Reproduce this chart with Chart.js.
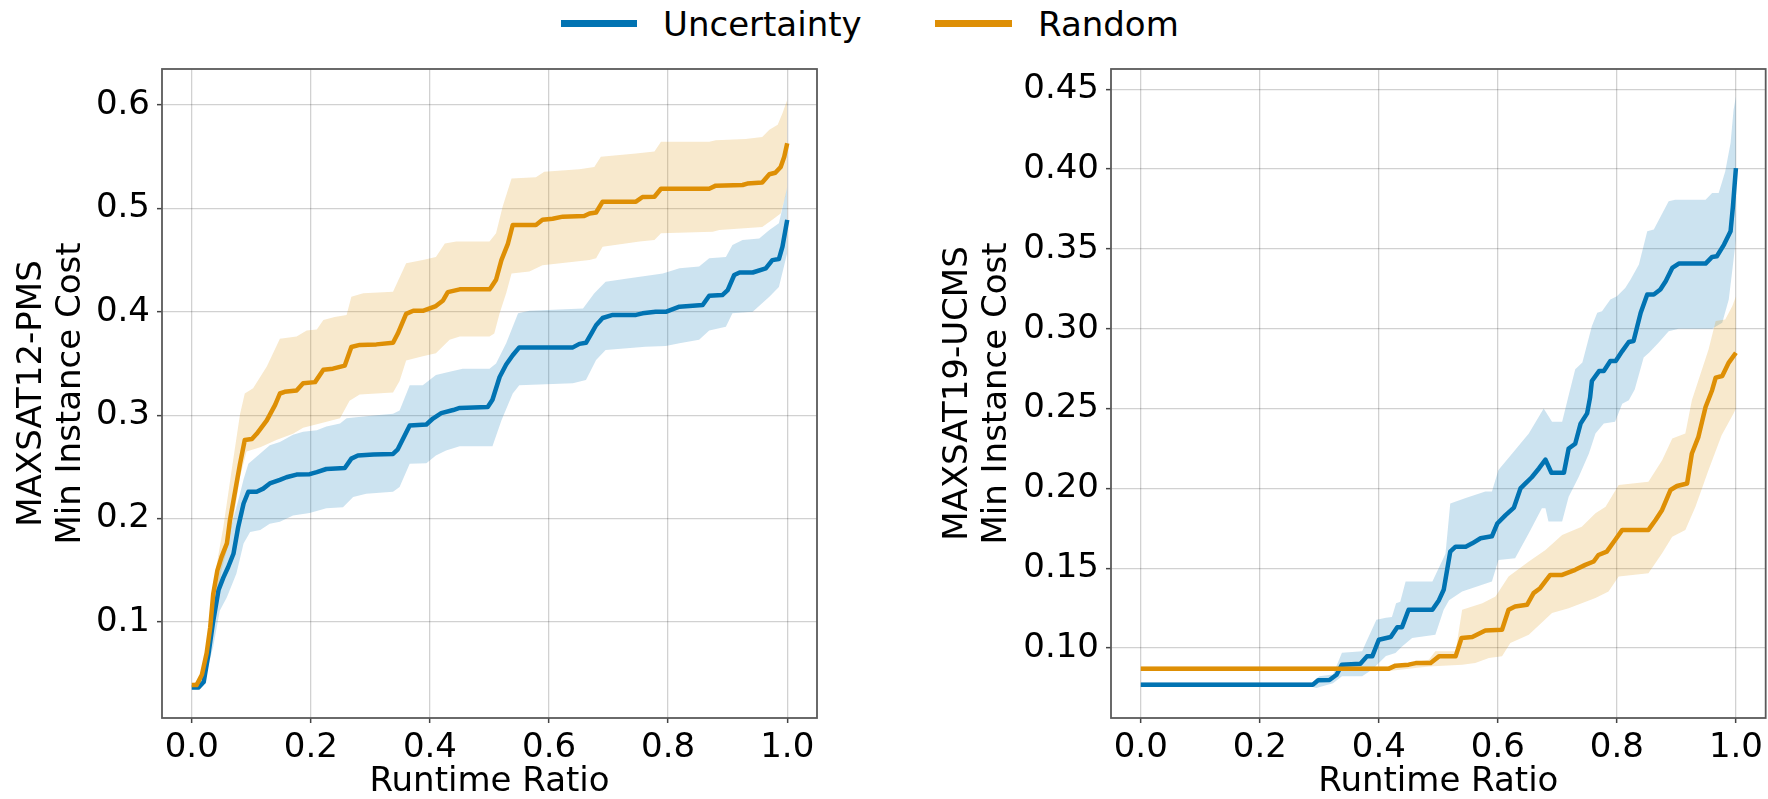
<!DOCTYPE html>
<html>
<head>
<meta charset="utf-8">
<script src="https://cdn.jsdelivr.net/npm/chart.js@4.4.0/dist/chart.umd.min.js"></script>
<style>
  html, body { margin: 0; padding: 0; background: #fff; }
  body { width: 1768px; height: 799px; position: relative; overflow: hidden; font-family: 'DejaVu Sans', sans-serif; }
  canvas { position: absolute; top: 0; }
  #left { left: 0; }
  #right { left: 880px; }
  .swatch { position: absolute; top: 20px; height: 7px; }
  .label { position: absolute; top: 7px; font-size: 34px; line-height: 34px; color: #000; white-space: nowrap; }
</style>
</head>
<body>
<div class="swatch" style="left:561px; width:76px; background:#0173B2;"></div>
<div class="label" style="left:663px;">Uncertainty</div>
<div class="swatch" style="left:935px; width:77px; background:#DE8F05;"></div>
<div class="label" style="left:1038px;">Random</div>
<canvas id="left" width="880" height="799"></canvas>
<canvas id="right" width="888" height="799"></canvas>
<script>
// x = runtime ratio, y = min instance cost
const xTicks = [0, 0.2, 0.4, 0.6, 0.8, 1.0];
const pmsYTicks = [0.1, 0.2, 0.3, 0.4, 0.5, 0.6];
const ucmsYTicks = [0.10, 0.15, 0.20, 0.25, 0.30, 0.35, 0.40, 0.45];

// MAXSAT12-PMS
const pmsUncMean = [[0,0.0366],[0.011,0.0366],[0.02,0.042],[0.028,0.069],[0.036,0.101],[0.045,0.131],[0.053,0.143],[0.061,0.153],[0.07,0.166],[0.078,0.192],[0.087,0.2146],[0.095,0.226],[0.109,0.226],[0.12,0.229],[0.131,0.234],[0.148,0.2375],[0.159,0.24],[0.176,0.2426],[0.198,0.243],[0.21,0.245],[0.226,0.248],[0.257,0.249],[0.268,0.258],[0.279,0.261],[0.305,0.262],[0.338,0.2626],[0.346,0.267],[0.366,0.29],[0.394,0.291],[0.405,0.2968],[0.419,0.302],[0.439,0.305],[0.45,0.307],[0.497,0.308],[0.505,0.315],[0.517,0.337],[0.528,0.349],[0.539,0.358],[0.55,0.3656],[0.64,0.3656],[0.651,0.369],[0.662,0.37],[0.671,0.379],[0.679,0.387],[0.69,0.394],[0.707,0.397],[0.746,0.397],[0.757,0.3985],[0.779,0.4],[0.796,0.4],[0.819,0.405],[0.858,0.4066],[0.869,0.4156],[0.891,0.4162],[0.9,0.421],[0.911,0.4356],[0.92,0.438],[0.942,0.438],[0.964,0.442],[0.975,0.45],[0.986,0.451],[0.992,0.463],[1.0,0.489]];
const pmsUncHi = [[0,0.038],[0.011,0.038],[0.02,0.046],[0.028,0.075],[0.036,0.115],[0.05,0.16],[0.065,0.19],[0.08,0.222],[0.087,0.238],[0.095,0.253],[0.115,0.263],[0.131,0.271],[0.148,0.274],[0.17,0.281],[0.187,0.284],[0.21,0.2855],[0.226,0.289],[0.249,0.292],[0.26,0.297],[0.276,0.298],[0.31,0.3],[0.338,0.3013],[0.349,0.3045],[0.366,0.329],[0.388,0.329],[0.41,0.339],[0.433,0.342],[0.455,0.345],[0.5,0.345],[0.511,0.35],[0.528,0.3695],[0.548,0.3985],[0.567,0.401],[0.657,0.4033],[0.676,0.418],[0.695,0.429],[0.729,0.432],[0.791,0.437],[0.819,0.442],[0.852,0.4437],[0.869,0.4517],[0.897,0.453],[0.908,0.4646],[0.925,0.4694],[0.953,0.471],[0.97,0.479],[0.986,0.4856],[0.995,0.508],[1.0,0.521]];
const pmsUncLo = [[0,0.035],[0.011,0.035],[0.02,0.039],[0.028,0.058],[0.036,0.076],[0.047,0.111],[0.059,0.124],[0.075,0.147],[0.087,0.176],[0.098,0.187],[0.115,0.189],[0.131,0.195],[0.148,0.197],[0.17,0.203],[0.198,0.2055],[0.226,0.21],[0.254,0.211],[0.271,0.221],[0.293,0.224],[0.338,0.226],[0.349,0.2306],[0.366,0.253],[0.394,0.2536],[0.41,0.261],[0.427,0.266],[0.45,0.27],[0.505,0.27],[0.52,0.295],[0.539,0.321],[0.55,0.329],[0.64,0.331],[0.662,0.334],[0.679,0.3534],[0.695,0.363],[0.762,0.3663],[0.796,0.367],[0.819,0.3695],[0.852,0.373],[0.869,0.382],[0.897,0.3856],[0.908,0.3985],[0.942,0.4],[0.97,0.4146],[0.986,0.424],[0.995,0.445],[1.0,0.457]];
const pmsRndMean = [[0,0.039],[0.008,0.039],[0.017,0.049],[0.025,0.07],[0.031,0.095],[0.036,0.127],[0.043,0.15],[0.05,0.163],[0.059,0.176],[0.064,0.198],[0.073,0.227],[0.081,0.253],[0.089,0.276],[0.101,0.277],[0.109,0.282],[0.126,0.295],[0.14,0.31],[0.148,0.321],[0.156,0.3226],[0.176,0.324],[0.187,0.331],[0.207,0.332],[0.221,0.344],[0.237,0.345],[0.257,0.348],[0.268,0.366],[0.282,0.368],[0.31,0.3685],[0.338,0.37],[0.346,0.379],[0.36,0.398],[0.372,0.401],[0.388,0.401],[0.41,0.4056],[0.422,0.411],[0.43,0.419],[0.45,0.4217],[0.5,0.4217],[0.503,0.424],[0.511,0.431],[0.52,0.45],[0.531,0.466],[0.539,0.484],[0.578,0.484],[0.589,0.489],[0.606,0.49],[0.623,0.492],[0.659,0.4926],[0.668,0.495],[0.679,0.496],[0.69,0.5065],[0.746,0.5065],[0.757,0.511],[0.777,0.5113],[0.788,0.519],[0.869,0.519],[0.88,0.522],[0.925,0.5226],[0.933,0.524],[0.958,0.525],[0.97,0.533],[0.98,0.5345],[0.989,0.54],[0.995,0.55],[1.0,0.563]];
const pmsRndHi = [[0,0.041],[0.008,0.042],[0.017,0.053],[0.025,0.078],[0.031,0.108],[0.036,0.135],[0.045,0.166],[0.053,0.192],[0.067,0.247],[0.081,0.301],[0.089,0.321],[0.103,0.326],[0.126,0.347],[0.148,0.374],[0.176,0.376],[0.193,0.382],[0.21,0.383],[0.221,0.392],[0.24,0.395],[0.26,0.397],[0.268,0.4146],[0.288,0.418],[0.338,0.4195],[0.36,0.447],[0.388,0.45],[0.41,0.453],[0.425,0.466],[0.444,0.468],[0.5,0.468],[0.511,0.476],[0.522,0.5017],[0.537,0.529],[0.578,0.53],[0.592,0.5355],[0.651,0.5378],[0.676,0.54],[0.687,0.55],[0.746,0.553],[0.777,0.5549],[0.788,0.5645],[0.869,0.5645],[0.88,0.566],[0.93,0.567],[0.958,0.569],[0.97,0.576],[0.984,0.581],[0.992,0.592],[1.0,0.605]];
const pmsRndLo = [[0,0.037],[0.01,0.037],[0.02,0.045],[0.028,0.065],[0.036,0.1],[0.05,0.15],[0.059,0.17],[0.07,0.2],[0.081,0.24],[0.092,0.265],[0.115,0.269],[0.142,0.276],[0.17,0.282],[0.187,0.288],[0.215,0.292],[0.249,0.297],[0.265,0.314],[0.282,0.32],[0.338,0.322],[0.349,0.333],[0.36,0.353],[0.388,0.357],[0.41,0.36],[0.433,0.373],[0.45,0.376],[0.5,0.376],[0.508,0.379],[0.517,0.3985],[0.528,0.418],[0.537,0.437],[0.567,0.439],[0.589,0.445],[0.668,0.45],[0.679,0.4517],[0.69,0.463],[0.752,0.468],[0.777,0.4694],[0.788,0.476],[0.875,0.4775],[0.886,0.479],[0.958,0.482],[0.975,0.489],[0.989,0.495],[0.997,0.512],[1.0,0.521]];

// MAXSAT19-UCMS
const ucmsUncMean = [[0,0.0771],[0.289,0.0771],[0.298,0.0798],[0.317,0.08],[0.329,0.0833],[0.338,0.0896],[0.369,0.0902],[0.38,0.0948],[0.389,0.0948],[0.4,0.1052],[0.42,0.1069],[0.431,0.1131],[0.439,0.1131],[0.45,0.124],[0.49,0.124],[0.501,0.13],[0.509,0.1365],[0.52,0.1604],[0.529,0.1635],[0.546,0.1635],[0.557,0.1656],[0.571,0.1688],[0.59,0.17],[0.599,0.178],[0.613,0.1833],[0.627,0.188],[0.638,0.2],[0.646,0.203],[0.657,0.207],[0.669,0.2125],[0.68,0.218],[0.69,0.2098],[0.711,0.2098],[0.719,0.225],[0.73,0.228],[0.739,0.2406],[0.75,0.247],[0.755,0.257],[0.758,0.2673],[0.77,0.2735],[0.778,0.2735],[0.789,0.2798],[0.798,0.2798],[0.809,0.286],[0.82,0.2917],[0.828,0.2923],[0.84,0.31],[0.851,0.3215],[0.862,0.3215],[0.873,0.3246],[0.882,0.3298],[0.893,0.3381],[0.904,0.3408],[0.949,0.3408],[0.96,0.345],[0.968,0.3454],[0.98,0.3527],[0.991,0.361],[0.995,0.3767],[1.0,0.4006]];
const ucmsUncHi = [[0,0.0786],[0.289,0.0786],[0.3,0.0823],[0.323,0.0835],[0.338,0.097],[0.372,0.098],[0.379,0.104],[0.396,0.1177],[0.412,0.119],[0.422,0.1194],[0.429,0.128],[0.436,0.129],[0.445,0.1417],[0.49,0.1417],[0.512,0.159],[0.52,0.1906],[0.546,0.194],[0.579,0.198],[0.59,0.198],[0.601,0.2115],[0.629,0.224],[0.652,0.2344],[0.677,0.25],[0.691,0.2417],[0.708,0.2417],[0.719,0.2583],[0.73,0.2746],[0.742,0.2788],[0.758,0.3017],[0.767,0.31],[0.775,0.311],[0.789,0.3183],[0.8,0.3204],[0.814,0.3256],[0.823,0.3308],[0.837,0.3402],[0.851,0.361],[0.862,0.3621],[0.887,0.3798],[0.898,0.3808],[0.949,0.3808],[0.96,0.385],[0.971,0.385],[0.982,0.3985],[0.991,0.4163],[0.996,0.437],[1.0,0.4454]];
const ucmsUncLo = [[0,0.0756],[0.289,0.0756],[0.295,0.075],[0.323,0.078],[0.338,0.0823],[0.372,0.0823],[0.389,0.0865],[0.4,0.0906],[0.412,0.095],[0.428,0.0969],[0.439,0.101],[0.456,0.1063],[0.495,0.1083],[0.509,0.124],[0.518,0.13],[0.54,0.1354],[0.59,0.1417],[0.601,0.1552],[0.629,0.1563],[0.652,0.1719],[0.674,0.1875],[0.68,0.1875],[0.685,0.1792],[0.708,0.1792],[0.719,0.1948],[0.736,0.2073],[0.753,0.2219],[0.764,0.2344],[0.778,0.2406],[0.797,0.2417],[0.809,0.2531],[0.82,0.2552],[0.83,0.262],[0.845,0.282],[0.854,0.285],[0.87,0.2913],[0.887,0.2985],[0.904,0.3],[0.96,0.3],[0.977,0.3038],[0.988,0.3183],[0.995,0.34],[1.0,0.3558]];
const ucmsRndMean = [[0,0.0871],[0.417,0.0871],[0.428,0.089],[0.45,0.0896],[0.462,0.0906],[0.487,0.0906],[0.501,0.0948],[0.529,0.0948],[0.539,0.1063],[0.557,0.1069],[0.579,0.111],[0.607,0.1115],[0.618,0.124],[0.629,0.126],[0.649,0.1271],[0.66,0.1344],[0.671,0.1375],[0.688,0.1458],[0.708,0.1458],[0.73,0.149],[0.747,0.1521],[0.761,0.1542],[0.769,0.1583],[0.783,0.1604],[0.797,0.1677],[0.809,0.174],[0.853,0.174],[0.865,0.1802],[0.876,0.1865],[0.89,0.199],[0.901,0.2015],[0.918,0.2031],[0.926,0.2219],[0.937,0.2323],[0.949,0.251],[0.96,0.2615],[0.966,0.2694],[0.977,0.2704],[0.988,0.2788],[1.0,0.285]];
const ucmsRndHi = [[0,0.0886],[0.417,0.0886],[0.45,0.0906],[0.484,0.0927],[0.495,0.098],[0.529,0.098],[0.54,0.124],[0.574,0.1281],[0.596,0.1323],[0.618,0.1448],[0.652,0.1542],[0.68,0.1615],[0.708,0.1708],[0.741,0.176],[0.764,0.1844],[0.781,0.1885],[0.803,0.2021],[0.853,0.2042],[0.876,0.2177],[0.893,0.2313],[0.915,0.2344],[0.926,0.2552],[0.937,0.2677],[0.954,0.287],[0.966,0.3048],[0.982,0.3058],[0.994,0.3142],[1.0,0.3204]];
const ucmsRndLo = [[0,0.0856],[0.417,0.0856],[0.484,0.0885],[0.54,0.0896],[0.562,0.0906],[0.585,0.0938],[0.607,0.0948],[0.621,0.1031],[0.652,0.1083],[0.691,0.1219],[0.719,0.125],[0.764,0.1313],[0.786,0.1354],[0.803,0.1448],[0.853,0.1469],[0.876,0.1594],[0.893,0.1698],[0.915,0.174],[0.932,0.1885],[0.954,0.2115],[0.976,0.2333],[0.996,0.2469],[1.0,0.25]];

const BLUE = '#0173B2';
const ORANGE = '#DE8F05';
const BLUE_FILL = 'rgba(1,115,178,0.2)';
const ORANGE_FILL = 'rgba(222,143,5,0.2)';
const GRID = 'rgba(0,0,0,0.18)';
const FONT = "'DejaVu Sans', sans-serif";

Chart.defaults.font.family = FONT;
Chart.defaults.color = '#000';

const toXY = pts => pts.map(([x, y]) => ({ x, y }));

// matplotlib style box round the plot area
const framePlugin = {
    id: 'frame',
    afterDatasetsDraw(chart) {
        const { ctx, chartArea: a } = chart;
        ctx.save();
        ctx.strokeStyle = '#5a5a5a';
        ctx.lineWidth = 1.8;
        ctx.strokeRect(a.left, a.top, a.right - a.left, a.bottom - a.top);
        ctx.restore();
    }
};

function band(pts, fillColor, fillTo, order) {
    return {
        data: toXY(pts),
        borderColor: 'rgba(0,0,0,0)',
        borderWidth: 0,
        pointRadius: 0,
        backgroundColor: fillColor,
        fill: fillTo,
        order: order
    };
}

function meanLine(label, pts, color, order) {
    return {
        label: label,
        data: toXY(pts),
        borderColor: color,
        borderWidth: 4.5,
        borderJoinStyle: 'round',
        pointRadius: 0,
        fill: false,
        order: order
    };
}

function makeChart(id, cfg) {
    const ctx = document.getElementById(id).getContext('2d');
    return new Chart(ctx, {
        type: 'line',
        data: {
            datasets: [
                meanLine('Random', cfg.rndMean, ORANGE, 0),
                meanLine('Uncertainty', cfg.uncMean, BLUE, 1),
                band(cfg.rndHi, ORANGE_FILL, '+1', 2),
                band(cfg.rndLo, 'rgba(0,0,0,0)', false, 3),
                band(cfg.uncHi, BLUE_FILL, '+1', 4),
                band(cfg.uncLo, 'rgba(0,0,0,0)', false, 5)
            ]
        },
        options: {
            responsive: false,
            animation: false,
            layout: { padding: { top: 69, right: cfg.padRight, bottom: 0, left: 0 } },
            scales: {
                x: {
                    type: 'linear',
                    min: -0.05,
                    max: 1.05,
                    afterBuildTicks: s => { s.ticks = xTicks.map(v => ({ value: v })); },
                    afterFit: s => { s.height = 81; },
                    ticks: { font: { size: 34 }, color: '#000', padding: 5, maxRotation: 0, autoSkip: false,
                             callback: v => v.toFixed(1) },
                    grid: { color: GRID, lineWidth: 1.3, tickColor: '#444', tickLength: 5, tickWidth: 1.5 },
                    border: { display: false },
                    title: { display: true, text: 'Runtime Ratio', color: '#000',
                             font: { size: 34, lineHeight: 1 }, padding: 0 }
                },
                y: {
                    type: 'linear',
                    min: cfg.yMin,
                    max: cfg.yMax,
                    afterBuildTicks: s => { s.ticks = cfg.yTicks.map(v => ({ value: v })); },
                    afterFit: s => { s.width = cfg.yWidth; },
                    ticks: { font: { size: 34 }, color: '#000', padding: 7, autoSkip: false,
                             callback: v => v.toFixed(cfg.decimals) },
                    grid: { color: GRID, lineWidth: 1.3, tickColor: '#444', tickLength: 5, tickWidth: 1.5 },
                    border: { display: false },
                    title: { display: true, text: cfg.title, color: '#000',
                             font: { size: 34, lineHeight: 1.15 }, padding: { top: cfg.titlePad, bottom: 0 } }
                }
            },
            plugins: {
                legend: { display: false },
                tooltip: { enabled: false }
            }
        },
        plugins: [framePlugin]
    });
}

makeChart('left', {
    uncMean: pmsUncMean, uncHi: pmsUncHi, uncLo: pmsUncLo,
    rndMean: pmsRndMean, rndHi: pmsRndHi, rndLo: pmsRndLo,
    yTicks: pmsYTicks, yMin: 0.0072, yMax: 0.6348, decimals: 1,
    title: ['MAXSAT12-PMS', 'Min Instance Cost'], titlePad: 12.5,
    yWidth: 162, padRight: 63
});

makeChart('right', {
    uncMean: ucmsUncMean, uncHi: ucmsUncHi, uncLo: ucmsUncLo,
    rndMean: ucmsRndMean, rndHi: ucmsRndHi, rndLo: ucmsRndLo,
    yTicks: ucmsYTicks, yMin: 0.0562, yMax: 0.4627, decimals: 2,
    title: ['MAXSAT19-UCMS', 'Min Instance Cost'], titlePad: 58.5,
    yWidth: 231, padRight: 1
});
</script>
</body>
</html>
